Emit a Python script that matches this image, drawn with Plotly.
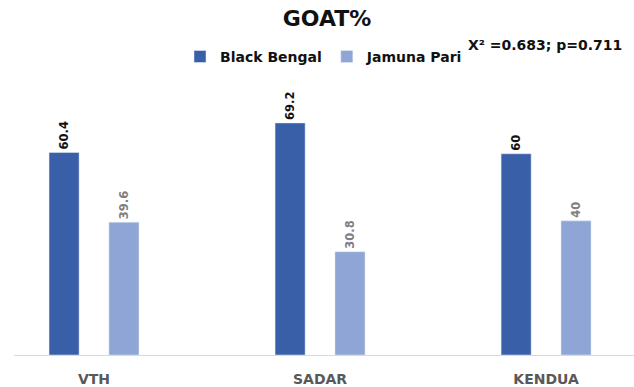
import plotly.graph_objects as go

# Goat breed shares by location (%)
locations = ["VTH", "SADAR", "KENDUA"]
black_bengal = [60.4, 69.2, 60.0]
jamuna_pari = [39.6, 30.8, 40.0]
black_bengal_labels = ["60.4", "69.2", "60"]
jamuna_pari_labels = ["39.6", "30.8", "40"]

DARK = "#3A5FA9"
LIGHT = "#8FA5D5"
FONT = "DejaVu Sans"

fig = go.Figure()
fig.add_trace(go.Bar(
    name="Black Bengal", x=locations, y=black_bengal,
    text=black_bengal_labels, textposition="outside", textangle=-90,
    textfont=dict(family=FONT, size=11.5, color="#111111", weight="bold"),
    marker=dict(color=DARK), width=0.133, offset=-0.199,
    constraintext="none", cliponaxis=False,
))
fig.add_trace(go.Bar(
    name="Jamuna Pari", x=locations, y=jamuna_pari,
    text=jamuna_pari_labels, textposition="outside", textangle=-90,
    textfont=dict(family=FONT, size=11.5, color="#7F7F7F", weight="bold"),
    marker=dict(color=LIGHT), width=0.133, offset=0.066,
    constraintext="none", cliponaxis=False,
))

fig.update_layout(
    width=634, height=387,
    margin=dict(l=14, r=0, t=80, b=32),
    paper_bgcolor="white", plot_bgcolor="white",
    barmode="overlay",
    font=dict(family=FONT, color="#595959"),
    title=dict(
        text="GOAT%", x=327 / 634, xanchor="center",
        y=1 - 18 / 387, yanchor="middle", yref="container",
        font=dict(family=FONT, size=22, color="#111111", weight="bold"),
    ),
    legend=dict(
        orientation="h", x=0.50, xanchor="center", y=1.084, yanchor="middle",
        font=dict(family=FONT, size=14, color="#111111", weight="bold"),
        bgcolor="rgba(0,0,0,0)", itemwidth=30,
    ),
    xaxis=dict(
        range=[-0.354, 2.389], showline=True, linecolor="#D9D9D9", linewidth=1,
        showgrid=False, zeroline=False, ticks="", ticklabelstandoff=11,
        tickfont=dict(family=FONT, size=14, color="#595959", weight="bold"),
    ),
    yaxis=dict(range=[0, 82], visible=False, showgrid=False, zeroline=False),
    annotations=[dict(
        text="X² =0.683; p=0.711", xref="paper", yref="paper",
        x=0.857, y=1.127, xanchor="center", yanchor="middle", showarrow=False,
        font=dict(family=FONT, size=14, color="#111111", weight="bold"),
    )],
)

fig.write_html("out.html")
